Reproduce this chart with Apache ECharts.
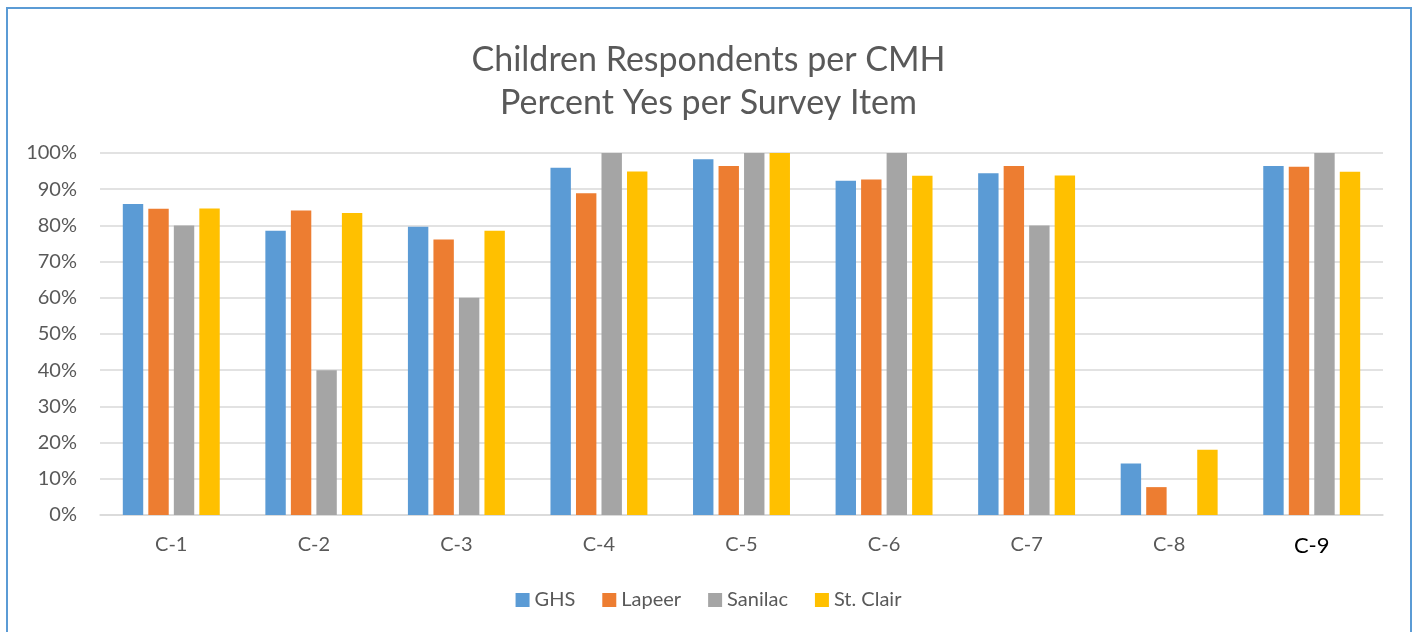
<!DOCTYPE html>
<html>
<head>
<meta charset="utf-8">
<script src="https://cdn.jsdelivr.net/npm/echarts@6/dist/echarts.min.js"></script>
<style>
html,body{margin:0;padding:0;background:#fff;}
#chart{width:1417px;height:632px;}
</style>
</head>
<body>
<div id="chart"></div>
<script>
const categories = ['C-1','C-2','C-3','C-4','C-5','C-6','C-7','C-8','C-9'];
const ghs      = [85.9, 78.5, 79.6, 95.9, 98.3, 92.3, 94.4, 14.2, 96.4];
const lapeer   = [84.6, 84.1, 76.1, 88.9, 96.4, 92.7, 96.4, 7.7, 96.2];
const sanilac  = [80, 40, 60, 100, 100, 100, 80, 0, 100];
const stclair  = [84.7, 83.4, 78.5, 94.9, 100, 93.7, 93.8, 18.0, 94.8];
const seriesNames = ['GHS','Lapeer','Sanilac','St. Clair'];
const colors = ['#5b9bd5','#ed7d31','#a5a5a5','#ffc000'];
const titleLines = ['Children Respondents per CMH','Percent Yes per Survey Item'];

const font = 'Lato, "Open Sans", sans-serif';
const chart = echarts.init(document.getElementById('chart'));
const data = [ghs, lapeer, sanilac, stclair];
chart.setOption({
  animation: false,
  color: colors,
  textStyle: {fontFamily: font},
  title: {
    text: titleLines.join('\n'),
    left: 'center',
    top: 34,
    textStyle: {fontFamily: font, fontSize: 34, fontWeight: 'normal', color: '#595959', lineHeight: 43}
  },
  graphic: [{
    type: 'rect', silent: true,
    shape: {x: 7, y: 8, width: 1404, height: 700},
    style: {fill: 'none', stroke: '#5b9bd5', lineWidth: 2}
  }],
  legend: {
    data: seriesNames,
    bottom: 17,
    left: 'center',
    icon: 'rect',
    itemWidth: 14, itemHeight: 14,
    itemGap: 27,
    textStyle: {fontFamily: font, fontSize: 20, color: '#595959'}
  },
  grid: {left: 100, right: 34, top: 153, bottom: 117},
  xAxis: {
    type: 'category',
    data: categories,
    axisTick: {show: false},
    axisLine: {lineStyle: {color: '#d9d9d9', width: 1.5}},
    axisLabel: {
      margin: 20,
      fontFamily: font, fontSize: 20, color: '#595959',
      formatter: function (v) { return v === 'C-9' ? '{b|' + v + '}' : v; },
      rich: {b: {fontFamily: font, fontSize: 22, color: '#000000'}}
    }
  },
  yAxis: {
    type: 'value',
    min: 0, max: 100, interval: 10,
    axisLine: {show: false},
    axisTick: {show: false},
    splitLine: {lineStyle: {color: '#d9d9d9', width: 1.5}},
    axisLabel: {margin: 23, fontFamily: font, fontSize: 20, color: '#595959', formatter: '{value}%'}
  },
  series: seriesNames.map((n, i) => ({
    name: n,
    type: 'bar',
    data: data[i],
    barGap: '25%',
    barCategoryGap: '32%'
  }))
});
</script>
</body>
</html>
